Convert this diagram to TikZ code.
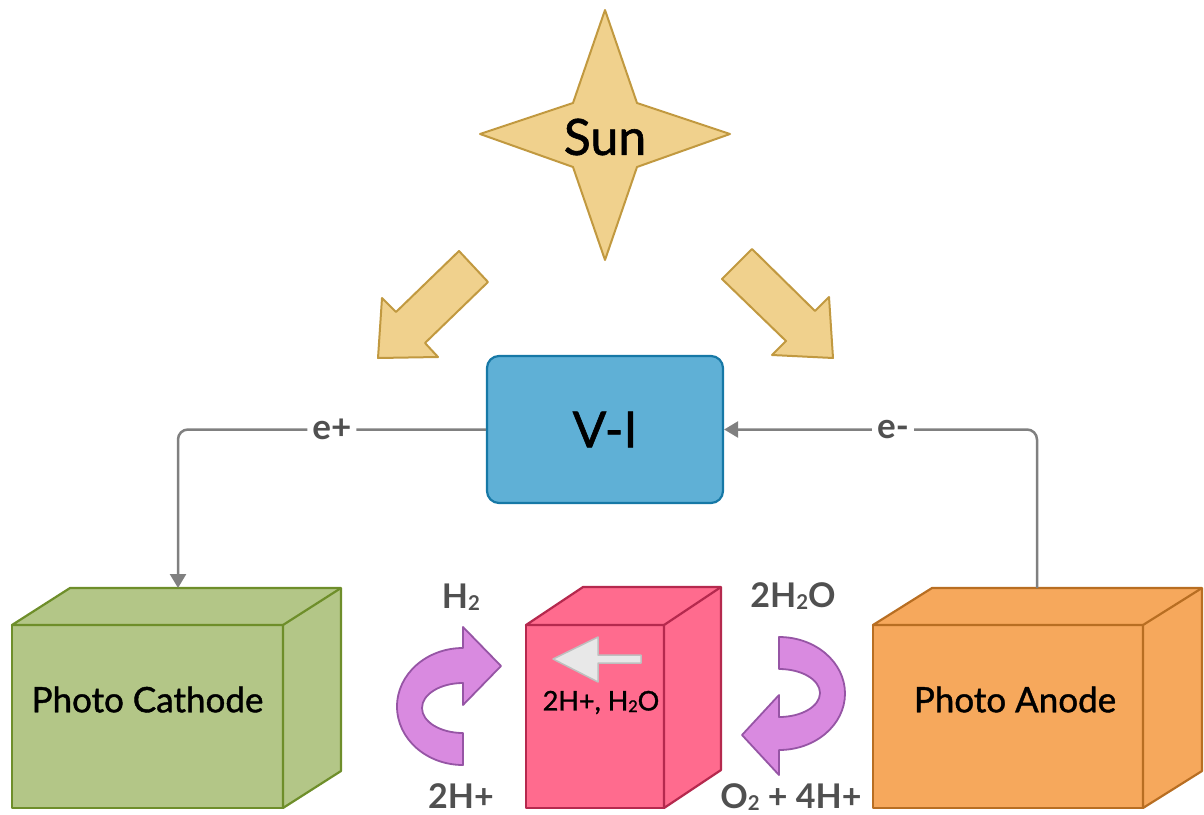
\documentclass[tikz,border=0pt]{standalone}
\usepackage{fontspec}
\setmainfont{Lato}
\newfontfamily\mediumfont{Lato}[FakeBold=1.2]
\usetikzlibrary{positioning, arrows.meta, calc}
\definecolor{sunfill}{RGB}{240,209,141}
\definecolor{sundraw}{RGB}{193,153,64}
\definecolor{vifill}{RGB}{95,176,214}
\definecolor{vidraw}{RGB}{22,120,166}
\definecolor{cathfill}{RGB}{179,198,135}
\definecolor{cathdraw}{RGB}{110,142,42}
\definecolor{anodefill}{RGB}{246,168,92}
\definecolor{anodedraw}{RGB}{184,110,34}
\definecolor{cellfill}{RGB}{255,107,142}
\definecolor{celldraw}{RGB}{181,41,78}
\definecolor{loopfill}{RGB}{217,138,224}
\definecolor{loopdraw}{RGB}{150,85,165}
\definecolor{wiregray}{RGB}{128,128,128}
\definecolor{labelgray}{RGB}{80,80,80}
\newcommand\chemsub[1]{\raisebox{-0.06em}{\scalebox{0.6}{#1}}}

\begin{document}
\begin{tikzpicture}[x=1pt, y=-1pt,
        cubeface/.style={draw=#1draw, fill=#1fill, line width=2.2pt, line join=round},
        frontface/.style={cubeface=#1, minimum height=183pt, inner sep=0pt, outer sep=0pt},
        boxlabel/.style={font=\mediumfont\fontsize{35}{42}\selectfont, text=black},
        biglabel/.style={font=\mediumfont\fontsize{50}{60}\selectfont, text=black},
        chemlabel/.style={font=\bfseries\fontsize{34}{40}\selectfont, text=labelgray, anchor=base},
        sunshape/.style={draw=sundraw, fill=sunfill, line width=2pt, line join=round},
        loopshape/.style={draw=loopdraw, fill=loopfill, line width=1.8pt, line join=round},
        wire/.style={draw=wiregray, line width=2.5pt, rounded corners=10pt, -{Triangle[length=14pt, width=16pt]}},
        wirelabel/.style={fill=white, inner xsep=5pt, inner ysep=2pt, text=labelgray, font=\bfseries\fontsize{35}{40}\selectfont}
    ]
    \useasboundingbox (0,0) rectangle (1204,814);

    % sun and its rays
    \draw[sunshape] (605,10) -- (637,103) -- (730,134) -- (637,167) -- (605,260)
        -- (573,167) -- (480,134) -- (573,103) -- cycle;
    \node[biglabel] (sun) at (605,137) {Sun};
    \draw[sunshape] (459,251) -- (488,282) -- (425,343) -- (438,357) -- (378,358)
        -- (382,298) -- (396,312) -- cycle;
    \draw[sunshape] (752,249) -- (722,279) -- (786,341) -- (772,355) -- (833,358)
        -- (829,297) -- (815,311) -- cycle;

    % V-I box
    \node[draw=vidraw, fill=vifill, line width=2.2pt, rounded corners=12pt,
          minimum width=236pt, minimum height=147pt, biglabel] (vi) at (605,429.5) {V-I};

    % electrodes and cell
    \node[frontface=cath, minimum width=271pt] (cathode) at (147.5,716.5) {};
    \draw[cubeface=cath] (cathode.north west) -- ++(58,-37) -- ++(271,0) -- ++(0,183)
        -- (cathode.south east) -- (cathode.north east) -- cycle;
    \draw[cubeface=cath] (cathode.north east) -- ++(58,-37);
    \node[boxlabel] (cathodetext) at ([yshift=17pt]cathode.center) {Photo Cathode};

    \node[frontface=cell, minimum width=138pt] (cell) at (595,716.5) {};
    \draw[cubeface=cell] (cell.north west) -- ++(57,-38) -- ++(138,0) -- ++(0,183)
        -- (cell.south east) -- (cell.north east) -- cycle;
    \draw[cubeface=cell] (cell.north east) -- ++(57,-38);
    \draw[draw=black!25, fill=black!9, line width=1.5pt, line join=round]
        (641,655) -- (598,655) -- (598,637) -- (553,659) -- (598,682) -- (598,663) -- (641,663) -- cycle;
    \node[font=\mediumfont\fontsize{27}{32}\selectfont] (celltext) at ([xshift=6pt, yshift=14pt]cell.center) {2H+, H\chemsub{2}O};

    \node[frontface=anode, minimum width=270pt] (anode) at (1008,716.5) {};
    \draw[cubeface=anode] (anode.north west) -- ++(59,-37) -- ++(270,0) -- ++(0,183)
        -- (anode.south east) -- (anode.north east) -- cycle;
    \draw[cubeface=anode] (anode.north east) -- ++(59,-37);
    \node[boxlabel] (anodetext) at ([xshift=7pt, yshift=17pt]anode.center) {Photo Anode};

    % wires
    \coordinate (cathodein) at ($(cathode.north west)+(166,-37)$);
    \coordinate (anodeout) at ($(anode.north west)+(164,-37)$);
    \draw[wire] (vi.west) -| node[wirelabel, pos=0.25] {e+} (cathodein);
    \draw[wire] (anodeout) |- node[wirelabel, pos=0.73] {e-} (vi.east);

    % reaction loops
    \draw[loopshape] (463,648) arc[start angle=90, end angle=270, x radius=66pt, y radius=58.5pt]
        -- (463,733) arc[start angle=270, end angle=90, x radius=41pt, y radius=25pt]
        -- (463,705) -- (501,666) -- (463,627) -- cycle;
    \draw[loopshape] (779,637) arc[start angle=90, end angle=-90, x radius=66pt, y radius=56.5pt]
        -- (779,775) -- (742,735) -- (779,695) -- (779,717)
        arc[start angle=-90, end angle=90, x radius=41pt, y radius=24pt] -- cycle;

    \node[chemlabel] (h2) at (461,608) {H\chemsub{2}};
    \node[chemlabel] (hplus) at (461,808) {2H+};
    \node[chemlabel] (water) at (793,607) {2H\chemsub{2}O};
    \node[chemlabel] (oxygen) at (791,808) {O\chemsub{2} + 4H+};
\end{tikzpicture}
\end{document}
